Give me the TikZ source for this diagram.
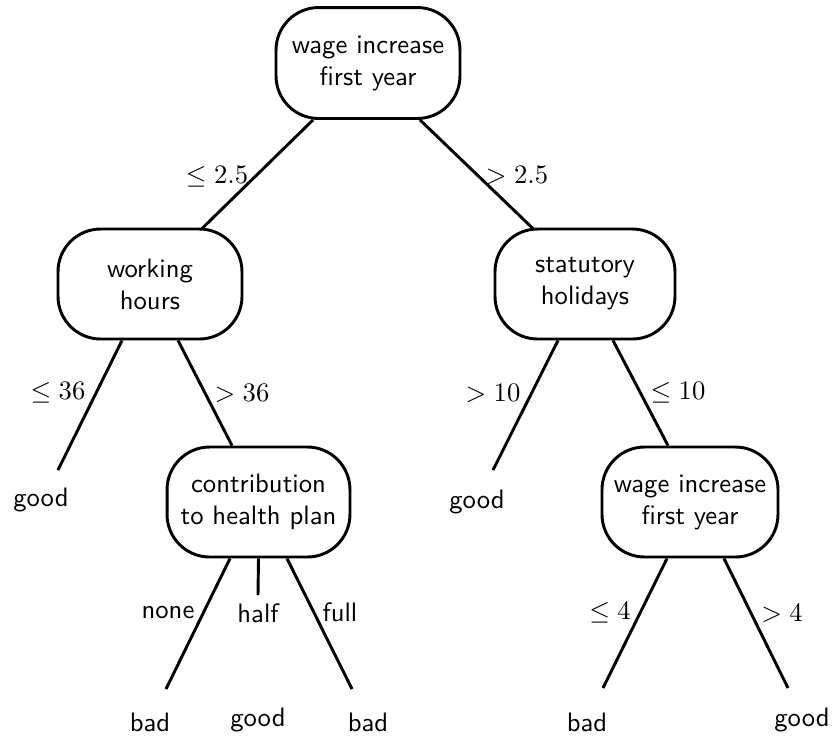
\documentclass[tikz,border=0pt]{standalone}
\usetikzlibrary{calc}
\begin{document}
\begin{tikzpicture}[x=0.375pt,y=-0.375pt,
  dec/.style={draw,line width=1.1pt,rounded corners=16pt,minimum width=67.5pt,minimum height=41.25pt,align=center,font=\sffamily,inner sep=2pt},
  leaf/.style={font=\sffamily,inner sep=0pt},
  lab/.style={inner sep=0pt},
  edge/.style={line width=1.1pt}]
\useasboundingbox (0,0) rectangle (833,735);
% decision nodes
\node[dec,minimum height=41.6pt,minimum width=69pt] (root) at (368,63) {wage increase\\first year};
\node[dec,minimum width=69pt] (wh) at (150,284) {working\\hours};
\node[dec] (st) at (585,284) {statutory\\holidays};
\node[dec,minimum width=68.6pt] (co) at (258.5,502) {contribution\\to health plan};
\node[dec,minimum width=66pt] (w2) at (690,502) {wage increase\\first year};
% leaves
\node[leaf] (g1) at (41,500) {good};
\node[leaf] (g2) at (477,502) {good};
\node[leaf] (b1) at (150,722) {bad};
\node[leaf] (g3) at (258,720) {good};
\node[leaf] (b2) at (368,722) {bad};
\node[leaf] (b3) at (587,722) {bad};
\node[leaf] (g4) at (802,720) {good};
% edges
\draw[edge] ($(root.south)+(-55,0)$) -- ($(wh.north)+(52,1)$);
\draw[edge] ($(root.south)+(52,0)$) -- ($(st.north)+(-52,1)$);
\draw[edge] ($(wh.south)+(-28,0)$) -- ($(g1)+(17,-30)$);
\draw[edge] ($(wh.south)+(28,0)$) -- ($(co.north)+(-26.5,0)$);
\draw[edge] ($(st.south)+(-27,0)$) -- ($(g2)+(16,-32)$);
\draw[edge] ($(st.south)+(28,0)$) -- ($(w2.north)+(-22,0)$);
\draw[edge] ($(co.south)+(-28.5,0)$) -- ($(b1)+(16,-33)$);
\draw[edge] (co.south) -- ($(g3)+(0,-125)$);
\draw[edge] ($(co.south)+(28.5,0)$) -- ($(b2)+(-16,-33)$);
\draw[edge] ($(w2.south)+(-23,0)$) -- ($(b3)+(16,-34)$);
\draw[edge] ($(w2.south)+(34,0)$) -- ($(g4)+(-14,-32)$);
% labels
\node[lab] (l1) at (217,177) {$\leq 2.5$};
\node[lab] (l2) at (517,175) {$> 2.5$};
\node[lab] (l3) at (58,393) {$\leq 36$};
\node[lab] (l4) at (242,393) {$> 36$};
\node[lab] (l5) at (493,393) {$> 10$};
\node[lab] (l6) at (678,393) {$\leq 10$};
\node[lab,font=\sffamily] (l7) at (168,612) {none};
\node[lab,font=\sffamily] (l8) at (258,613) {half};
\node[lab,font=\sffamily] (l9) at (340,612) {full};
\node[lab] (l10) at (610,613) {$\leq 4$};
\node[lab] (l11) at (782,613) {$> 4$};
\end{tikzpicture}
\end{document}
